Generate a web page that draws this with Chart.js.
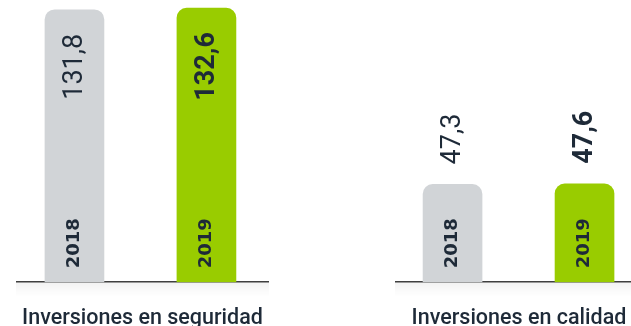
<!DOCTYPE html>
<html>
<head>
<meta charset="utf-8">
<script src="https://cdn.jsdelivr.net/npm/chart.js@4"></script>
<style>
    body { margin: 0; background: #fff; overflow: hidden; width: 631px; height: 326px; position: relative; }
    .box { position: absolute; top: 0; height: 326px; }
    #boxSeguridad { left: 16px; width: 253px; }
    #boxCalidad { left: 395px; width: 248px; }
</style>
</head>
<body>
<div class="box" id="boxSeguridad"><canvas id="chartSeguridad"></canvas></div>
<div class="box" id="boxCalidad"><canvas id="chartCalidad"></canvas></div>

<script>
// Investment data (millones)
const years = ['2018', '2019'];
const seguridad = [131.8, 132.6];
const calidad = [47.3, 47.6];
const titles = ['Inversiones en seguridad', 'Inversiones en calidad'];

const barColors = ['#d1d4d7', '#99cc00'];
const textColor = '#1e2a38';
const FONT = 'Roboto, "Noto Sans", sans-serif';

// Spanish decimal comma
function fmt(v) {
    return v.toFixed(1).replace('.', ',');
}

// Rotated year + value labels on each bar, soft shadow under the axis
const barLabels = {
    id: 'barLabels',
    beforeDatasetsDraw(chart) {
        const ctx = chart.ctx;
        const area = chart.chartArea;
        const g = ctx.createLinearGradient(0, area.bottom, 0, area.bottom + 14);
        g.addColorStop(0, 'rgba(0,0,0,0.05)');
        g.addColorStop(1, 'rgba(0,0,0,0)');
        ctx.save();
        ctx.fillStyle = g;
        ctx.fillRect(area.left, area.bottom, area.right - area.left, 14);
        ctx.restore();
    },
    afterDatasetsDraw(chart, args, opts) {
        const ctx = chart.ctx;
        const meta = chart.getDatasetMeta(0);
        const base = chart.scales.y.getPixelForValue(0);
        meta.data.forEach((bar, i) => {
            const v = chart.data.datasets[0].data[i].y;
            ctx.save();
            ctx.fillStyle = textColor;
            ctx.textBaseline = 'middle';

            // year at bottom of bar
            ctx.save();
            ctx.translate(bar.x, base - 14);
            ctx.rotate(-Math.PI / 2);
            ctx.textAlign = 'left';
            ctx.font = 'bold 18px "DejaVu Sans", sans-serif';
            ctx.fillText(years[i], 0, 0);
            ctx.restore();

            // value: inside the top of tall bars, above short ones
            ctx.font = (i === 1 ? 'bold ' : '') + '27px ' + FONT;
            ctx.translate(bar.x, opts.inside ? bar.y + 24 : bar.y - 20);
            ctx.rotate(-Math.PI / 2);
            ctx.textAlign = opts.inside ? 'right' : 'left';
            ctx.fillText(fmt(v), 0, 1);
            ctx.restore();
        });
    }
};

function makeChart(id, values, title, inside, xMin, xMax) {
    const ctx = document.getElementById(id);
    return new Chart(ctx, {
        type: 'bar',
        data: {
            datasets: [{
                data: values.map((v, i) => ({ x: i, y: v })),
                backgroundColor: barColors,
                borderRadius: 10,
                borderSkipped: 'start',
                barThickness: 59
            }]
        },
        options: {
            responsive: true,
            maintainAspectRatio: false,
            animation: false,
            layout: { padding: 0 },
            scales: {
                x: {
                    type: 'linear',
                    min: xMin,
                    max: xMax,
                    offset: false,
                    grid: { display: false, drawTicks: false },
                    ticks: { display: false },
                    border: { display: true, color: '#3f3f3f', width: 1.5 }
                },
                y: {
                    min: 0,
                    max: 136.5,
                    display: false
                }
            },
            plugins: {
                legend: { display: false },
                tooltip: { enabled: false },
                title: {
                    display: true,
                    text: title,
                    position: 'bottom',
                    color: textColor,
                    font: { family: FONT, size: 21.5, weight: '500' },
                    padding: { top: 24, bottom: -6 }
                },
                barLabels: { inside: inside }
            }
        },
        plugins: [barLabels]
    });
}

// x ranges place the two bars 132px apart inside each axis line
makeChart('chartSeguridad', seguridad, titles[0], true, -0.443, 1.474);
makeChart('chartCalidad', calidad, titles[1], false, -0.436, 1.443);
</script>
</body>
</html>
